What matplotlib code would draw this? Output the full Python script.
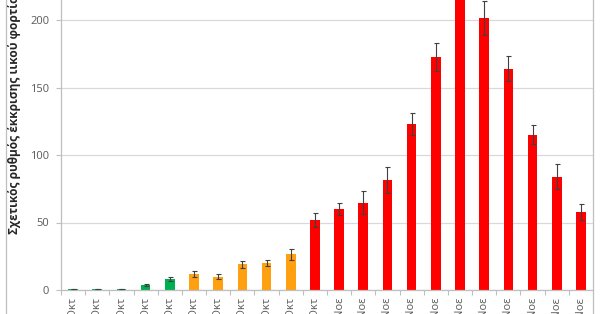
import matplotlib
matplotlib.use("Agg")
import matplotlib.pyplot as plt
from matplotlib.lines import Line2D
import numpy as np

plt.rcParams['font.family'] = ['Open Sans', 'DejaVu Sans']

categories = ["21-Οκτ", "22-Οκτ", "23-Οκτ", "24-Οκτ", "25-Οκτ", "26-Οκτ", "27-Οκτ",
              "28-Οκτ", "29-Οκτ", "30-Οκτ", "31-Οκτ", "1-Νοε", "2-Νοε", "3-Νοε",
              "4-Νοε", "5-Νοε", "6-Νοε", "7-Νοε", "8-Νοε", "9-Νοε", "10-Νοε", "11-Νοε"]
values = [0.8, 0.8, 0.8, 3.5, 8.5, 12, 10, 19, 20, 26.5, 52, 60, 64.5, 81.5,
          123, 172.5, 228, 201.5, 164, 115, 84, 58]
errors = [0.3, 0.3, 0.3, 0.8, 1.5, 2.0, 1.8, 2.8, 2.5, 4.0, 5.0, 4.5, 8.5, 9.5,
          8.0, 10.5, 12.0, 12.5, 9.5, 7.0, 9.5, 6.0]
groups = ["g"] * 5 + ["o"] * 5 + ["r"] * 12
group_colors = {"g": "#00B050", "o": "#FFA010", "r": "#FF0000"}
ylabel = "Σχετικός ρυθμός έκκρισης ιικού φορτίου"
yticks = [0, 50, 100, 150, 200]

W, H = 600, 314
fig = plt.figure(figsize=(W / 100, H / 100), dpi=100)
ax = fig.add_axes([61 / W, 24 / H, 532 / W, 337.5 / H])

x = np.arange(len(categories))
colors = [group_colors[g] for g in groups]
ax.bar(x, values, width=0.4, color=colors, zorder=2)
ax.errorbar(x, values, yerr=errors, fmt="none", ecolor="#404040",
            elinewidth=0.8, capsize=1.8, capthick=0.8, zorder=3)

ax.set_xlim(-0.5, len(categories) - 0.5)
ax.set_ylim(0, 250)
ax.set_yticks(yticks)
ax.yaxis.grid(True, color="#D9D9D9", linewidth=0.9, zorder=0)
ax.set_axisbelow(True)

ax.set_xticks(x)
ax.set_xticklabels(categories, rotation=90, ha="center", va="top")
ax.set_xticks(np.arange(-0.5, len(categories), 1.0), minor=True)
ax.tick_params(axis="x", which="major", length=0, pad=5, labelsize=8,
               labelcolor="#595959")
ax.tick_params(axis="x", which="minor", length=3.5, color="#BFBFBF", width=0.8)
ax.tick_params(axis="y", length=3.5, color="#BFBFBF", width=0.8, pad=5,
               labelsize=8, labelcolor="#595959")

for s in ["top", "right"]:
    ax.spines[s].set_visible(False)
for s in ["left", "bottom"]:
    ax.spines[s].set_color("#BFBFBF")
    ax.spines[s].set_linewidth(0.9)

fig.text(15 / W, (H - 234) / H, ylabel, rotation=90, ha="center", va="bottom",
         fontsize=8.6, fontweight="bold", color="#262626")

# chart frame lines
fig.add_artist(Line2D([5.5 / W, 5.5 / W], [0, 1], color="#BFBFBF", linewidth=0.9))
fig.add_artist(Line2D([592.5 / W, 592.5 / W], [0, 1], color="#BFBFBF", linewidth=0.9))

fig.savefig("out.png", dpi=100)
